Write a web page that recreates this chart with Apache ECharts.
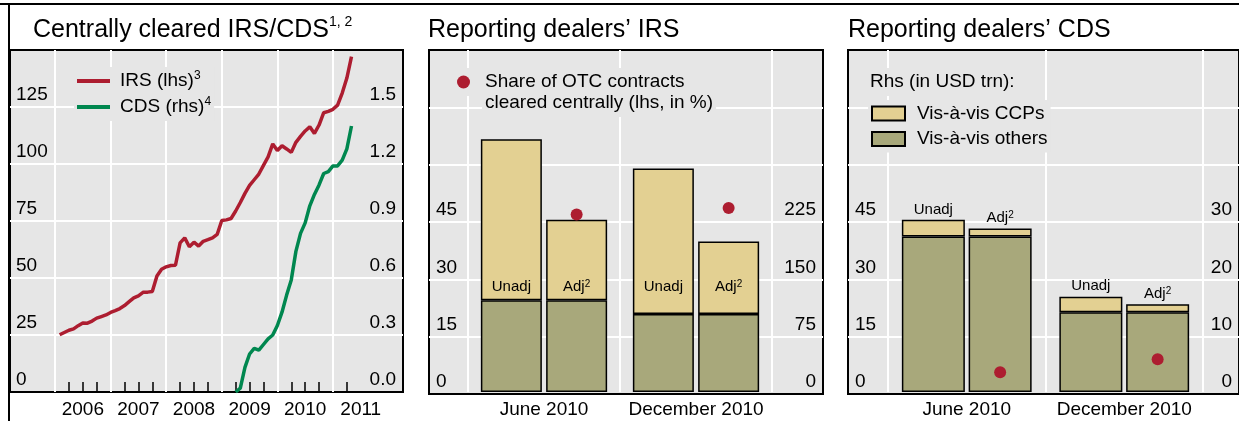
<!DOCTYPE html>
<html>
<head>
<meta charset="utf-8">
<script src="https://cdn.jsdelivr.net/npm/echarts@6/dist/echarts.min.js"></script>
<style>
  html, body { margin: 0; padding: 0; background: #fff; }
  #chart { width: 1239px; height: 421px; }
</style>
</head>
<body>
<div id="chart"></div>
<script>
// ---- data ----
// panel 1: centrally cleared, monthly
var irsStart = '2006-02';
var irsValues = [
  25.1, 26.1, 27.1, 27.7, 29.1, 30.3, 30.2, 31.1, 32.4, 33.1, 33.8,
  34.9, 35.7, 36.6, 37.9, 39.6, 41.3, 42.2, 43.7, 43.8, 44.1, 50.9, 53.8,
  54.9, 55.5, 55.6, 65.4, 67.6, 63.7, 65.7, 64.0, 66.1, 66.8, 67.6, 69.1,
  75.2, 75.5, 76.1, 79.4, 83.1, 87.1, 90.6, 93.1, 95.6, 99.4, 103.1, 108.8,
  105.9, 108.0, 106.6, 105.1, 109.5, 112.1, 114.5, 116.3, 113.4, 117.1, 122.5, 123.1,
  124.0, 125.8, 131.1, 137.7, 147.1
];
var cdsStart = '2009-04';
var cdsValues = [
  0.00, 0.02, 0.13, 0.20, 0.23, 0.22, 0.25, 0.28, 0.30,
  0.35, 0.42, 0.51, 0.59, 0.74, 0.835, 0.89, 0.98, 1.04, 1.09, 1.15, 1.16,
  1.19, 1.19, 1.22, 1.28, 1.40
];
var yearTicks = [2006, 2007, 2008, 2009, 2010, 2011];
var lhsLines1 = [25, 50, 75, 100, 125];
var legendNotes = { 'IRS (lhs)': '3', 'CDS (rhs)': '4' };

// panels 2 and 3: reporting dealers (USD trn, rhs) and share cleared (%, lhs)
var periods = ['June 2010', 'December 2010'];
var lhsLines23 = [15, 30, 45, 60, 75];
var irsOthers = [120.8, 102.5];
var irsCcpUnadj = [211.7, 191.5];
var irsCcpAdj = [105.7, 95.5];
var irsShare = [46.7, 48.4];
var cdsOthers = [27.3, 14.0];
var cdsCcpUnadj = [2.9, 2.7];
var cdsCcpAdj = [1.4, 1.4];
var cdsShare = [5.2, 8.6];

// ---- helpers ----
function monthSeq(start, n) {
  var p = start.split('-'), y = +p[0], m = +p[1], out = [];
  for (var i = 0; i < n; i++) {
    out.push(y + '-' + (m < 10 ? '0' : '') + m);
    m++; if (m > 12) { m = 1; y++; }
  }
  return out;
}
function toYear(s) { var p = s.split('-'); return +p[0] + (p[1] - 1) / 12; }
function pairs(start, vals) {
  return monthSeq(start, vals.length).map(function (d, i) { return [toYear(d), vals[i]]; });
}

var quarterTicks = [];
yearTicks.forEach(function (y) {
  [0.25, 0.5, 0.75].forEach(function (q) { if (y + q < 2011.3) quarterTicks.push(y + q); });
});
// category band edges: 0 .. periods.length
var bandEdges = [];
for (var b = 0; b <= periods.length; b++) bandEdges.push(b);

var FONT = 'Liberation Sans, Arial, sans-serif';
var RED = '#ad1d30', GREEN = '#00874f', SAND = '#e3d092', OLIVE = '#a8a87b', BG = '#e6e6e6';
var X1MIN = 2005.19, X1MAX = 2012.26;
var LHS1_MAX = 150, LHS23_MAX = 90;
var TOP = 50, H = 344;

function tickStyle() { return { color: '#000', width: 1.5 }; }
function lblBase() { return { fontFamily: FONT, fontSize: 19, color: '#000' }; }
function ylabel(fmt, margin) {
  return Object.assign({
    inside: true, verticalAlign: 'bottom', lineHeight: 24, margin: margin,
    showMaxLabel: false, formatter: fmt
  }, lblBase());
}
function hiddenAxis(grid, min, max) {
  return { gridIndex: grid, type: 'value', min: min, max: max, show: false };
}
function catAxis(grid) {
  return {
    gridIndex: grid, type: 'category', data: periods, position: 'bottom', z: 2,
    axisLine: { show: false },
    axisTick: { show: true, inside: true, length: 14, lineStyle: tickStyle() },
    axisLabel: Object.assign({ margin: 7, lineHeight: 22, interval: 0 }, lblBase()),
    splitLine: { show: false }
  };
}
function frameAxis(grid, max, interval, pos, fmt, margin) {
  return {
    gridIndex: grid, type: 'value', min: 0, max: max, interval: interval, position: pos, z: 2,
    axisLine: { show: false }, axisTick: { show: false },
    axisLabel: ylabel(fmt, margin),
    splitLine: { show: false }
  };
}
function whiteLines(values, key) {
  return {
    silent: true, symbol: 'none', animation: false, label: { show: false },
    lineStyle: { color: '#fff', width: 2, type: 'solid' },
    emphasis: { disabled: true },
    data: values.map(function (v) { var o = {}; o[key] = v; return o; })
  };
}
// panel background (mark area over the axis extent) and white grid lines
function panel(xi, yi, xMin, xMax, yMax, hLines, vLines) {
  var ml = whiteLines(hLines, 'yAxis');
  if (vLines) ml.data = ml.data.concat(vLines.map(function (v) { return { xAxis: v }; }));
  return {
    name: 'panel', type: 'line', xAxisIndex: xi, yAxisIndex: yi, data: [],
    silent: true, clip: false,
    markArea: {
      silent: true, label: { show: false }, emphasis: { disabled: true },
      itemStyle: { color: BG, borderColor: '#000', borderWidth: 2 },
      data: [[{ xAxis: xMin, yAxis: 0 }, { xAxis: xMax, yAxis: yMax }]]
    },
    markLine: ml
  };
}
function bandLines(xi, yi) {
  return { name: 'bands', type: 'line', xAxisIndex: xi, yAxisIndex: yi, data: [],
    silent: true, clip: false, markLine: whiteLines(bandEdges, 'xAxis') };
}
function supRich(size) { return { s: { fontFamily: FONT, fontSize: size, verticalAlign: 'top', color: '#000' } }; }

function barSeries(name, xi, yi, stack, data, color, width, gap, label, z) {
  return {
    name: name, type: 'bar', xAxisIndex: xi, yAxisIndex: yi, stack: stack, data: data,
    barWidth: width, barGap: gap, z: z,
    itemStyle: { color: color, borderColor: '#000', borderWidth: 1.5 },
    label: label || { show: false }, silent: true
  };
}
function dotSeries(name, xi, yi, data, width, gap) {
  return [
    { name: 'spacer', type: 'pictorialBar', xAxisIndex: xi, yAxisIndex: yi, data: [],
      barWidth: width, barGap: gap, symbol: 'none' },
    { name: name, type: 'pictorialBar', xAxisIndex: xi, yAxisIndex: yi, data: data,
      barWidth: width, barGap: gap, symbol: 'circle', symbolSize: 12,
      symbolPosition: 'end', symbolOffset: [0, '-50%'], z: 9,
      itemStyle: { color: RED } }
  ];
}
function irsLabel(txt) {
  return { show: true, position: 'insideBottom', distance: 98, formatter: txt,
    fontFamily: FONT, fontSize: 15, color: '#000', rich: supRich(10) };
}
function cdsLabel(txt) {
  return { show: true, position: 'top', distance: 3, formatter: txt,
    fontFamily: FONT, fontSize: 15, color: '#000', rich: supRich(10) };
}
function plainGrid(left, width) {
  return { left: left, top: TOP, width: width, height: H };
}
function titleText(text, left, top, size, lh, boxed) {
  return { text: text, left: boxed ? left - 3 : left, top: boxed ? top - 3 : top,
    padding: boxed ? 3 : 0, backgroundColor: boxed ? BG : 'transparent', z: 10,
    textStyle: { fontFamily: FONT, fontSize: size, lineHeight: lh, fontWeight: 'normal', color: '#000', rich: supRich(14) } };
}

var option = {
  animation: false,
  textStyle: { fontFamily: FONT },
  graphic: [
    { type: 'line', shape: { x1: 0, y1: 4, x2: 1239, y2: 4 }, style: { stroke: '#000', lineWidth: 2 } },
    { type: 'line', shape: { x1: 9, y1: 4, x2: 9, y2: 421 }, style: { stroke: '#000', lineWidth: 2 } }
  ],
  title: [
    titleText('Centrally cleared IRS/CDS{s|1, 2}', 33, 15, 25, 30),
    titleText('Reporting dealers\u2019 IRS', 428, 15, 25, 30),
    titleText('Reporting dealers\u2019 CDS', 848, 15, 25, 30),
    titleText('cleared centrally (lhs, in %)', 485, 92, 19, 22, true),
    titleText('Rhs (in USD trn):', 870, 71, 19, 22, true)
  ],
  legend: [
    { data: [{ name: 'IRS (lhs)', icon: 'rect' }, { name: 'CDS (rhs)', icon: 'rect' }],
      orient: 'vertical', left: 74, top: 67, padding: 3, backgroundColor: BG, z: 10,
      itemWidth: 33, itemHeight: 4, itemGap: 4, selectedMode: false,
      formatter: function (n) { return n + '{s|' + legendNotes[n] + '}'; },
      textStyle: Object.assign({ lineHeight: 22, padding: [0, 0, 0, 5], rich: supRich(12) }, lblBase()) },
    { data: [{ name: 'Share of OTC contracts', icon: 'circle' }], left: 454, top: 68, padding: 3,
      backgroundColor: BG, z: 10,
      itemWidth: 13, itemHeight: 13, selectedMode: false,
      textStyle: Object.assign({ lineHeight: 22, padding: [0, 0, 0, 10] }, lblBase()) },
    { data: [{ name: 'Vis-\u00e0-vis CCPs', icon: 'rect' }, { name: 'Vis-\u00e0-vis others', icon: 'rect' }],
      orient: 'vertical', left: 868, top: 100, padding: 3, backgroundColor: BG, z: 10,
      itemWidth: 33, itemHeight: 14, itemGap: 4.5, selectedMode: false,
      textStyle: Object.assign({ lineHeight: 21, padding: [0, 0, 0, 7] }, lblBase()) }
  ],
  grid: [
    plainGrid(10, 393),   // 0 panel 1
    plainGrid(429, 394),  // 1 panel 2 frame axes
    plainGrid(468, 304),  // 2 panel 2 bars
    plainGrid(848, 395),  // 3 panel 3 frame axes
    plainGrid(888, 315)   // 4 panel 3 bars
  ],
  xAxis: [
    // 0: panel 1 year ticks + labels
    { gridIndex: 0, type: 'value', min: X1MIN, max: X1MAX, position: 'bottom', z: 2,
      axisLine: { show: false },
      axisTick: { show: true, inside: true, length: 20, customValues: yearTicks, lineStyle: tickStyle() },
      axisLabel: Object.assign({ customValues: yearTicks.map(function (y) { return y + 0.5; }),
        formatter: function (v) { return String(Math.floor(v)); }, margin: 7, lineHeight: 22 }, lblBase()),
      splitLine: { show: false } },
    // 1: panel 1 quarter ticks
    { gridIndex: 0, type: 'value', min: X1MIN, max: X1MAX, position: 'bottom', z: 2,
      axisLine: { show: false },
      axisTick: { show: true, inside: true, length: 10, customValues: quarterTicks, lineStyle: tickStyle() },
      axisLabel: { show: false }, splitLine: { show: false } },
    hiddenAxis(1, 0, 1),                  // 2
    catAxis(2),                           // 3
    hiddenAxis(3, 0, 1),                  // 4
    catAxis(4),                           // 5
    hiddenAxis(2, 0, periods.length),     // 6 band edges, panel 2
    hiddenAxis(4, 0, periods.length)      // 7 band edges, panel 3
  ],
  yAxis: [
    // 0,1 panel 1
    frameAxis(0, LHS1_MAX, 25, 'left', null, 6),
    frameAxis(0, 1.8, 0.3, 'right', function (v) { return v.toFixed(1); }, 7),
    // 2,3 panel 2 frame
    frameAxis(1, LHS23_MAX, 15, 'left', function (v) { return v <= 45 ? v : ''; }, 7),
    frameAxis(1, 450, 75, 'right', function (v) { return v <= 225 ? v : ''; }, 7),
    // 4,5 panel 2 bars (hidden)
    hiddenAxis(2, 0, 450), hiddenAxis(2, 0, LHS23_MAX),
    // 6,7 panel 3 frame
    frameAxis(3, LHS23_MAX, 15, 'left', function (v) { return v <= 45 ? v : ''; }, 7),
    frameAxis(3, 60, 10, 'right', function (v) { return v <= 30 ? v : ''; }, 7),
    // 8,9 panel 3 bars (hidden)
    hiddenAxis(4, 0, 60), hiddenAxis(4, 0, LHS23_MAX)
  ],
  series: [
    panel(0, 0, X1MIN, X1MAX, LHS1_MAX, lhsLines1, yearTicks),
    panel(2, 2, 0, 1, LHS23_MAX, lhsLines23),
    panel(4, 6, 0, 1, LHS23_MAX, lhsLines23),
    bandLines(6, 5),
    bandLines(7, 9),

    { name: 'IRS (lhs)', type: 'line', xAxisIndex: 0, yAxisIndex: 0, data: pairs(irsStart, irsValues),
      symbol: 'none', showSymbol: false, lineStyle: { color: RED, width: 3.5 }, itemStyle: { color: RED }, z: 8 },
    { name: 'CDS (rhs)', type: 'line', xAxisIndex: 0, yAxisIndex: 1, data: pairs(cdsStart, cdsValues),
      symbol: 'none', showSymbol: false, lineStyle: { color: GREEN, width: 3.5 }, itemStyle: { color: GREEN }, z: 8 },

    barSeries('Vis-\u00e0-vis others', 3, 4, 'irsU', irsOthers, OLIVE, 61, '7%', irsLabel('Unadj'), 7),
    barSeries('Vis-\u00e0-vis CCPs', 3, 4, 'irsU', irsCcpUnadj, SAND, 61, '7%', null, 6),
    barSeries('Vis-\u00e0-vis others', 3, 4, 'irsA', irsOthers, OLIVE, 61, '7%', irsLabel('Adj{s|2}'), 7),
    barSeries('Vis-\u00e0-vis CCPs', 3, 4, 'irsA', irsCcpAdj, SAND, 61, '7%', null, 6),

    barSeries('Vis-\u00e0-vis others', 5, 8, 'cdsU', cdsOthers, OLIVE, 63, '6%', null, 7),
    barSeries('Vis-\u00e0-vis CCPs', 5, 8, 'cdsU', cdsCcpUnadj, SAND, 63, '6%', cdsLabel('Unadj'), 6),
    barSeries('Vis-\u00e0-vis others', 5, 8, 'cdsA', cdsOthers, OLIVE, 63, '6%', null, 7),
    barSeries('Vis-\u00e0-vis CCPs', 5, 8, 'cdsA', cdsCcpAdj, SAND, 63, '6%', cdsLabel('Adj{s|2}'), 6)
  ].concat(dotSeries('Share of OTC contracts', 3, 5, irsShare, 61, '7%'))
   .concat(dotSeries('Share of OTC contracts', 5, 9, cdsShare, 63, '6%'))
};

var chart = echarts.init(document.getElementById('chart'), null, { renderer: 'canvas' });
chart.setOption(option);
</script>
</body>
</html>
